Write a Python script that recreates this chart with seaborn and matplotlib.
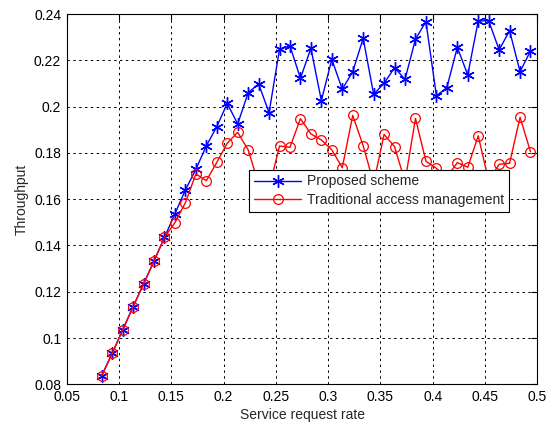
import matplotlib
matplotlib.use("Agg")
import matplotlib.pyplot as plt
import seaborn as sns
import pandas as pd

rate = [0.0835, 0.0935, 0.1035, 0.1135, 0.1235, 0.1335, 0.1435, 0.1535, 0.1635, 0.1735,
        0.1835, 0.1935, 0.2035, 0.2135, 0.2235, 0.2335, 0.2435, 0.2535, 0.2635, 0.2735,
        0.2835, 0.2935, 0.3035, 0.3135, 0.3235, 0.3335, 0.3435, 0.3535, 0.3635, 0.3735,
        0.3835, 0.3935, 0.4035, 0.4135, 0.4235, 0.4335, 0.4435, 0.4535, 0.4635, 0.4735,
        0.4835, 0.4935]

proposed = [0.0838, 0.0934, 0.1035, 0.1136, 0.1234, 0.1333, 0.1435, 0.1537, 0.1640, 0.1729,
            0.1830, 0.1913, 0.2014, 0.1925, 0.2060, 0.2098, 0.1974, 0.2248, 0.2262, 0.2122,
            0.2252, 0.2026, 0.2204, 0.2075, 0.2151, 0.2295, 0.2053, 0.2101, 0.2168, 0.2118,
            0.2291, 0.2367, 0.2047, 0.2082, 0.2256, 0.2137, 0.2370, 0.2371, 0.2245, 0.2328,
            0.2151, 0.2240]

traditional = [0.0838, 0.0934, 0.1035, 0.1136, 0.1234, 0.1333, 0.1435, 0.1499, 0.1585, 0.1709,
               0.1680, 0.1759, 0.1842, 0.1889, 0.1813, 0.1666, 0.1647, 0.1830, 0.1824, 0.1948,
               0.1882, 0.1856, 0.1813, 0.1736, 0.1962, 0.1831, 0.1669, 0.1880, 0.1827, 0.1676,
               0.1949, 0.1764, 0.1733, 0.1695, 0.1758, 0.1738, 0.1874, 0.1679, 0.1751, 0.1755,
               0.1954, 0.1805]

labels = ["Proposed scheme", "Traditional access management"]

sns.set_style("white")
plt.rcParams["font.family"] = ["Liberation Sans", "DejaVu Sans"]

df_p = pd.DataFrame({"rate": rate, "thr": proposed})
df_t = pd.DataFrame({"rate": rate, "thr": traditional})

fig = plt.figure(figsize=(5.5, 4.23), dpi=100)
ax = fig.add_axes([0.1213, 0.0913, 0.8556, 0.8756])

sns.lineplot(data=df_p, x="rate", y="thr", ax=ax, color="#0000ff", linewidth=1.0,
             marker=(6, 2, 0), markersize=9, markeredgewidth=1.0, markerfacecolor="#0000ff",
             markeredgecolor="#0000ff", label=labels[0])
sns.lineplot(data=df_t, x="rate", y="thr", ax=ax, color="#ff0000", linewidth=1.0,
             marker="o", markersize=7, markeredgewidth=0.9, markerfacecolor="none",
             markeredgecolor="#ff0000", label=labels[1])

ax.set_xlim(0.05, 0.5)
ax.set_ylim(0.08, 0.24)
ax.set_xticks([0.05, 0.1, 0.15, 0.2, 0.25, 0.3, 0.35, 0.4, 0.45, 0.5])
ax.set_xticklabels(["0.05", "0.1", "0.15", "0.2", "0.25", "0.3", "0.35", "0.4", "0.45", "0.5"])
ax.set_yticks([0.08, 0.1, 0.12, 0.14, 0.16, 0.18, 0.2, 0.22, 0.24])
ax.set_yticklabels(["0.08", "0.1", "0.12", "0.14", "0.16", "0.18", "0.2", "0.22", "0.24"])
ax.grid(True, linestyle=(0, (2.5, 3.5)), color="black", linewidth=0.7)
ax.tick_params(direction="in", top=True, right=True, length=4, width=0.8,
               labelsize=10, colors="black", pad=4)
for s in ax.spines.values():
    s.set_color("black")
    s.set_linewidth(0.8)
ax.set_xlabel("Service request rate", fontsize=10, labelpad=3)
ax.set_ylabel("Throughput", fontsize=10, labelpad=4)

leg = ax.legend(loc="upper left", bbox_to_anchor=(0.3876, 0.5798), fontsize=10,
                frameon=True, fancybox=False, edgecolor="black", framealpha=1,
                handlelength=3.4, borderpad=0.35, labelspacing=0.35, handletextpad=0.4,
                borderaxespad=0)
leg.get_frame().set_linewidth(0.8)

fig.savefig("out.png", dpi=100)
